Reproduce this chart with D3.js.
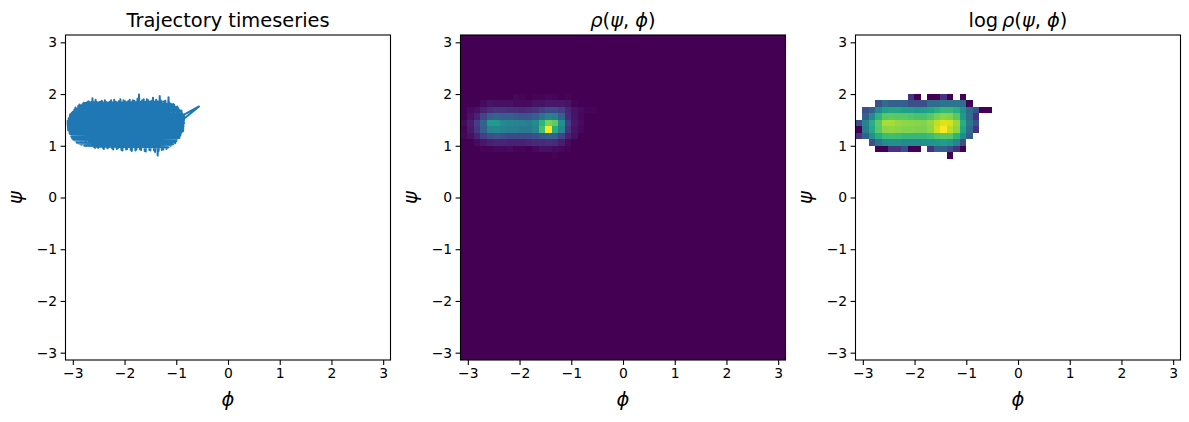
<!DOCTYPE html>
<html>
<head>
<meta charset="utf-8">
<script src="https://cdn.jsdelivr.net/npm/d3@7"></script>
<style>
  body { margin: 0; background: #fff; }
  svg { font-family: "DejaVu Sans", sans-serif; }
</style>
</head>
<body>
<svg id="fig" width="1189" height="422"></svg>
<script>
// ---- data ----
const nBins = 50;                       // histogram bins per axis over [-pi, pi]
const tickValues = [-3, -2, -1, 0, 1, 2, 3];

// trajectory (phi, psi) in radians
const trajPhi = [-3.08,-3.06,-3.02,-2.99,-2.95,-2.91,-2.87,-2.83,-2.79,-2.75,-2.70,-2.66,-2.62,-2.57,-2.53,-2.49,-2.44,-2.40,-2.35,-2.31,-2.26,-2.22,-2.17,-2.13,-2.08,-2.04,-1.99,-1.95,-1.90,-1.86,-1.81,-1.77,-1.72,-1.68,-1.63,-1.59,-1.54,-1.50,-1.45,-1.41,-1.37,-1.36,-1.32,-1.28,-1.23,-1.19,-1.15,-1.11,-1.06,-1.02,-0.98,-0.94,-0.90,-0.87,-0.85,-0.56,-0.88,
  -0.92,-0.96,-1.00,-1.04,-1.08,-1.13,-1.17,-1.21,-1.25,-1.30,-1.34,-1.39,-1.43,-1.48,-1.52,-1.57,-1.61,-1.66,-1.70,-1.75,-1.79,-1.84,-1.88,-1.93,-1.97,-2.02,-2.06,-2.11,-2.15,-2.20,-2.24,-2.29,-2.33,-2.38,-2.42,-2.47,-2.51,-2.56,-2.60,-2.64,-2.68,-2.73,-2.77,-2.81,-2.85,-2.89,-2.93,-2.97,-3.01,-3.05,-3.09,-3.10,
  -2.72,-1.10,-2.88,-1.00,-2.95,-0.94,-3.00,-0.89,-3.04,-0.87,-3.07,-0.85,-3.09,-0.85,-3.10,-0.86,-3.09,-0.87,-3.08,-0.89,-3.06,-0.92,-3.03,-0.96,-2.99,-1.01,-2.92,-1.06,-2.78,-1.15,
  -2.60,-1.09,-2.88,-1.03,-2.97,-0.98,-3.02,-0.94,-3.05,-0.90,-3.07,-0.88,-3.09,-0.86,-3.10,-0.85,-3.09,-0.85,-3.08,-0.86,-3.05,-0.88,-3.01,-0.92,-2.96,-0.97,-2.90,-1.04,-2.78,-1.20];
const trajPsi = [1.55,1.24,1.64,1.12,1.74,1.07,1.80,1.02,1.83,0.99,1.86,1.00,1.92,0.96,1.84,0.98,1.87,0.94,1.84,0.97,1.88,0.93,1.85,0.95,1.90,0.91,1.86,0.94,1.89,0.90,1.87,0.93,1.99,0.92,1.90,0.89,1.88,0.91,1.93,0.88,1.86,0.81,1.96,0.92,1.86,0.94,1.94,0.99,1.81,1.05,1.76,1.15,1.68,1.28,1.60,1.76,1.50,
  1.20,1.72,1.09,1.79,1.02,1.83,0.96,1.87,0.93,1.88,0.90,1.89,0.91,1.87,0.92,1.90,0.90,1.88,0.93,1.91,0.91,1.88,0.92,1.86,0.93,1.88,0.92,1.86,0.94,1.89,0.95,1.85,0.95,1.88,0.96,1.85,0.96,1.89,0.98,1.84,0.99,1.83,1.01,1.81,1.03,1.77,1.08,1.70,1.14,1.61,1.30,1.48,
  1.84,1.81,1.78,1.75,1.72,1.69,1.66,1.63,1.60,1.57,1.54,1.51,1.48,1.45,1.42,1.39,1.36,1.33,1.30,1.27,1.24,1.21,1.18,1.15,1.12,1.09,1.06,1.03,1.00,0.97,
  0.985,1.015,1.045,1.075,1.105,1.135,1.165,1.195,1.225,1.255,1.285,1.315,1.345,1.375,1.405,1.435,1.465,1.495,1.525,1.555,1.585,1.615,1.645,1.675,1.705,1.735,1.765,1.795,1.825,1.855];

// 2d histogram counts: one row per psi bin (top to bottom), columns start at phi bin 0
const histPhiBin0 = 0;
const histPsiBins = [40, 39, 38, 37, 36, 35, 34, 33, 32, 31];
const histCounts = [
  [0,0,0,0,0,0,0,0,2,1,0,1,1,2,1,0,1,0,0,0,0],
  [0,0,0,3,5,4,4,4,3,3,3,5,5,6,6,6,5,1,0,0,0],
  [0,3,4,9,14,15,15,14,13,12,13,15,18,22,22,18,10,5,3,1,1],
  [0,4,9,20,30,32,30,30,28,26,26,30,38,45,42,30,12,5,2,0,0],
  [3,8,18,32,55,55,48,46,45,44,42,48,65,80,75,50,18,6,3,0,0],
  [1,7,16,30,45,46,44,42,42,40,40,46,70,100,62,45,15,5,2,0,0],
  [2,4,10,18,24,25,24,22,22,22,22,24,28,30,30,20,9,4,0,0,0],
  [0,0,3,6,9,10,10,9,9,9,10,11,12,13,12,8,3,0,0,0,0],
  [0,0,0,1,1,2,2,3,1,1,0,2,4,4,3,2,1,0,0,0,0],
  [0,0,0,0,0,0,0,0,0,0,0,0,0,0,1,0,0,0,0,0,0]
];

const titles = [
  [{t: 'Trajectory timeseries'}],
  [{t: 'ρ', it: true}, {t: '('}, {t: 'ψ', it: true}, {t: ', '}, {t: 'ϕ', it: true}, {t: ')'}],
  [{t: 'log\u2009'}, {t: 'ρ', it: true}, {t: '('}, {t: 'ψ', it: true}, {t: ', '}, {t: 'ϕ', it: true}, {t: ')'}]
];

class PhasePanel {

    constructor( config ) {
        this.config = {
            parent: config.parent,
            left: config.left,
            top: config.top || 35,
            size: config.size || 325,
            title: config.title
        }
        this.init();
    }

    init() {
        let self = this;
        const s = self.config.size;

        self.g = self.config.parent.append('g')
            .attr('transform', `translate(${self.config.left}, ${self.config.top})`);

        self.xscale = d3.scaleLinear().domain([-Math.PI, Math.PI]).range([0, s]);
        self.yscale = d3.scaleLinear().domain([-Math.PI, Math.PI]).range([s, 0]);

        self.marks = self.g.append('g');
        self.axes_layer = self.g.append('g');
    }

    trajectory( phi, psi ) {
        let self = this;
        const pts = d3.zip(phi, psi);
        const line = d3.line()
            .x(d => self.xscale(d[0]))
            .y(d => self.yscale(d[1]));

        self.marks.append('path')
            .attr('d', line(pts))
            .attr('fill', 'none')
            .attr('stroke', '#1f77b4')
            .attr('stroke-width', 2)
            .attr('stroke-linejoin', 'round');
    }

    heatmap( cells, color ) {
        let self = this;
        self.marks.selectAll('rect.cell')
            .data(cells)
            .join('rect')
            .attr('class', 'cell')
            .attr('x', d => self.xscale(d.phi0))
            .attr('y', d => self.yscale(d.psi1))
            .attr('width', d => self.xscale(d.phi1) - self.xscale(d.phi0))
            .attr('height', d => self.yscale(d.psi0) - self.yscale(d.psi1))
            .attr('fill', d => color(d.count))
            .attr('shape-rendering', 'crispEdges');
    }

    render() {
        let self = this;
        const s = self.config.size;
        const fmt = d => d < 0 ? '\u2212' + (-d) : String(d);

        const xaxis = d3.axisBottom(self.xscale).tickValues(tickValues)
            .tickSize(4.9).tickPadding(3.5).tickFormat(fmt);
        const yaxis = d3.axisLeft(self.yscale).tickValues(tickValues)
            .tickSize(4.9).tickPadding(3.5).tickFormat(fmt);

        const xg = self.axes_layer.append('g')
            .attr('transform', `translate(0, ${s})`)
            .call(xaxis);
        const yg = self.axes_layer.append('g').call(yaxis);

        [xg, yg].forEach(a => {
            a.select('.domain').remove();
            a.selectAll('line').attr('stroke', '#000').attr('stroke-width', 1.1);
            a.selectAll('text')
                .attr('fill', '#000')
                .style('font-size', '13.9px')
                .style('font-family', '"DejaVu Sans", sans-serif');
        });

        self.axes_layer.append('rect')
            .attr('x', 0).attr('y', 0)
            .attr('width', s).attr('height', s)
            .attr('fill', 'none')
            .attr('stroke', '#000')
            .attr('stroke-width', 1.1);

        const title = self.axes_layer.append('text')
            .attr('x', s / 2).attr('y', -8)
            .attr('text-anchor', 'middle')
            .style('font-size', '19.4px');
        self.config.title.forEach(p => {
            title.append('tspan').text(p.t).style('font-style', p.it ? 'italic' : 'normal');
        });

        self.axes_layer.append('text')
            .attr('x', s / 2).attr('y', s + 46)
            .attr('text-anchor', 'middle')
            .style('font-size', '19.4px')
            .style('font-style', 'italic')
            .text('ϕ');

        self.axes_layer.append('text')
            .attr('transform', `translate(-44, ${s / 2}) rotate(-90)`)
            .attr('text-anchor', 'middle')
            .style('font-size', '19.4px')
            .style('font-style', 'italic')
            .text('ψ');
    }
}

// ---- build histogram cells ----
const edges = d3.range(nBins + 1).map(i => -Math.PI + i * 2 * Math.PI / nBins);
const countAt = new Map();
histCounts.forEach((row, r) => {
    row.forEach((c, k) => {
        countAt.set(`${histPsiBins[r]}_${histPhiBin0 + k}`, c);
    });
});
const allCells = [];
for (let j = 0; j < nBins; j++) {
    for (let i = 0; i < nBins; i++) {
        allCells.push({
            phi0: edges[i], phi1: edges[i + 1],
            psi0: edges[j], psi1: edges[j + 1],
            count: countAt.get(`${j}_${i}`) || 0
        });
    }
}
const maxCount = d3.max(allCells, d => d.count);
const nonZero = allCells.filter(d => d.count > 0);

const svg = d3.select('#fig');

const p1 = new PhasePanel({ parent: svg, left: 65.5, title: titles[0] });
p1.trajectory(trajPhi, trajPsi);
p1.render();

const p2 = new PhasePanel({ parent: svg, left: 460.5, title: titles[1] });
p2.heatmap(allCells, c => d3.interpolateViridis(c / maxCount));
p2.render();

const p3 = new PhasePanel({ parent: svg, left: 855.5, title: titles[2] });
const logMax = Math.log(maxCount);
p3.heatmap(nonZero, c => d3.interpolateViridis(Math.log(c) / logMax));
p3.render();
</script>
</body>
</html>
